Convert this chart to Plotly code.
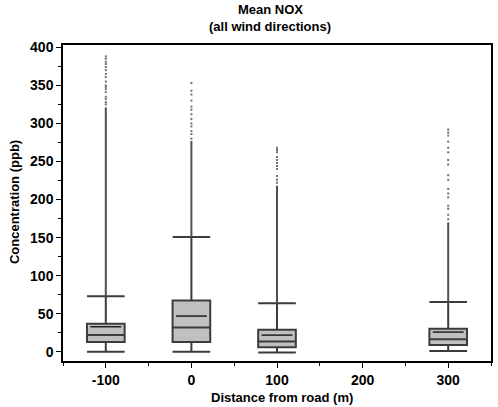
import plotly.graph_objects as go

# distance from road (m) and box statistics (ppb)
distances = [-100, 0, 100, 300]
lower_cap = [0, 0, -1, 1]
q1 = [13, 13, 6, 9]
median = [22, 32, 13.5, 16.5]
mean = [33, 47, 22, 26]
q3 = [37, 67.5, 29, 30.5]
upper_cap = [73, 151, 64, 65.5]
# top of the dense (solid looking) run of high values
dense_top = [321, 277, 218, 170]
# sparser high values above that
outliers = [
    [325, 328, 332, 335, 341, 345, 348, 350, 355, 361, 365, 370, 374, 378, 381, 385, 388],
    [280, 286, 290, 296, 300, 306, 312, 318, 322, 330, 338, 343, 353],
    [222, 226, 231, 240, 244, 248, 252, 256, 262, 265, 268],
    [174, 180, 188, 192, 203, 208, 214, 226, 232, 246, 252, 262, 268, 276, 284, 288, 292],
]

box_w = 44
mean_half = 18

fig = go.Figure()

fig.add_trace(go.Box(
    x=distances,
    q1=q1, median=median, q3=q3,
    lowerfence=lower_cap, upperfence=upper_cap,
    width=box_w,
    whiskerwidth=1,
    boxpoints=False,
    fillcolor="#c0c0c0",
    line=dict(color="#3c3c3c", width=2),
    showlegend=False,
))

# whisker continued through the dense high values
ex, ey = [], []
for d, lo, hi in zip(distances, upper_cap, dense_top):
    ex += [d, d, None]
    ey += [lo, hi, None]
fig.add_trace(go.Scatter(x=ex, y=ey, mode="lines",
                         line=dict(color="#505050", width=2), showlegend=False))

# mean lines
mx, my = [], []
for d, m in zip(distances, mean):
    mx += [d - mean_half, d + mean_half, None]
    my += [m, m, None]
fig.add_trace(go.Scatter(x=mx, y=my, mode="lines",
                         line=dict(color="#202020", width=1.5), showlegend=False))

ox, oy = [], []
for d, vals in zip(distances, outliers):
    ox += [d] * len(vals)
    oy += vals
fig.add_trace(go.Scatter(x=ox, y=oy, mode="markers",
                         marker=dict(symbol="square", size=2, color="#707070"),
                         showlegend=False))

font = dict(family="Liberation Sans, Arial, sans-serif", color="black")

fig.update_layout(
    width=498, height=407,
    margin=dict(l=63, r=7, t=45, b=46, autoexpand=False),
    plot_bgcolor="white", paper_bgcolor="white",
    font=font,
    annotations=[
        dict(text="<b>Mean NOX</b>", xref="paper", yref="paper", x=0.484, y=1.112,
             xanchor="center", yanchor="middle", showarrow=False, font=dict(size=13, **font)),
        dict(text="<b>(all wind directions)</b>", xref="paper", yref="paper", x=0.484, y=1.06,
             xanchor="center", yanchor="middle", showarrow=False, font=dict(size=13, **font)),
        dict(text="<b>Distance from road (m)</b>", xref="paper", yref="paper", x=0.512, y=-0.114,
             xanchor="center", yanchor="middle", showarrow=False, font=dict(size=13, **font)),
        dict(text="<b>Concentration (ppb)</b>", xref="paper", yref="paper", x=-0.1145, y=0.503,
             xanchor="center", yanchor="middle", textangle=-90, showarrow=False,
             font=dict(size=13, **font)),
    ],
)
fig.update_xaxes(
    range=[-150, 350], tickvals=[-100, 0, 100, 200, 300],
    ticktext=["<b>-100</b>", "<b>0</b>", "<b>100</b>", "<b>200</b>", "<b>300</b>"],
    ticks="outside", ticklen=5, tickwidth=1, tickcolor="black",
    minor=dict(dtick=50, tick0=-150, ticks="outside", ticklen=3, tickcolor="black"),
    showline=True, linecolor="black", linewidth=1.5, mirror=True,
    showgrid=False, zeroline=False, automargin=False,
    tickfont=dict(size=14, **font),
)
fig.update_yaxes(
    range=[-12, 403], tickvals=list(range(0, 401, 50)),
    ticktext=[f"<b>{v}</b>" for v in range(0, 401, 50)],
    ticks="outside", ticklen=5, tickwidth=1, tickcolor="black",
    minor=dict(dtick=25, tick0=0, ticks="outside", ticklen=3, tickcolor="black"),
    showline=True, linecolor="black", linewidth=1.5, mirror=True,
    showgrid=False, zeroline=False, automargin=False,
    tickfont=dict(size=14, **font),
)

# drop the browser's default body margin so the figure sits at the page corner
fig.write_html("out.html", config={"displayModeBar": False},
               post_script="document.body.style.margin='0';")
